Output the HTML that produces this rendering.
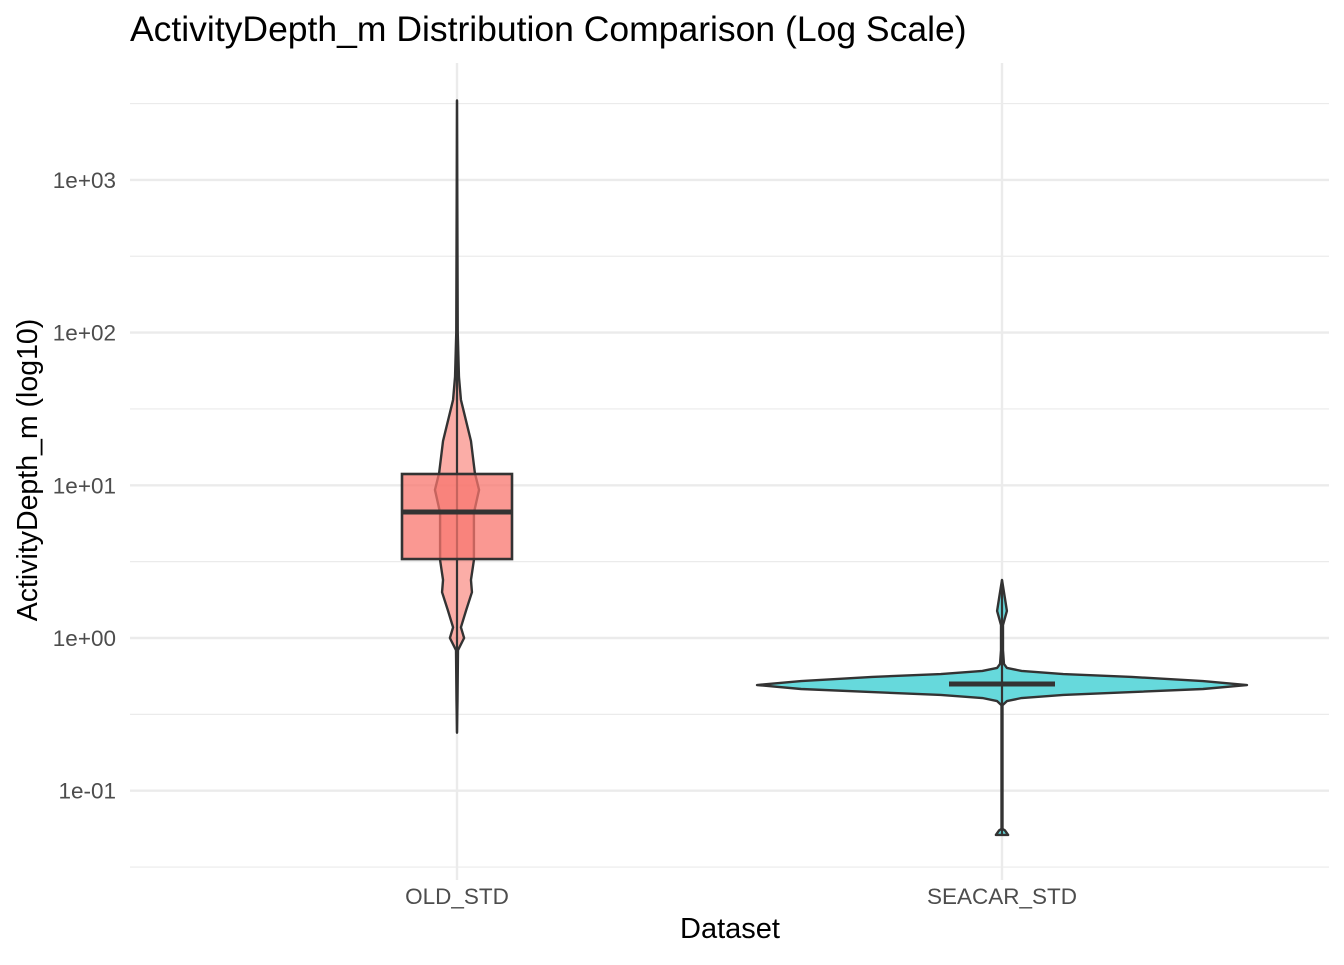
<!DOCTYPE html>
<html><head><meta charset="utf-8"><style>
body{margin:0;background:#fff;}
svg text{font-family:"Liberation Sans",sans-serif;}
</style></head><body>
<svg id="chart" width="1344" height="960" viewBox="0 0 1344 960" xmlns="http://www.w3.org/2000/svg">
<rect width="1344" height="960" fill="#fff"/>
<g id="grid"></g><g id="marks"></g><g id="axes"></g>
<text x="130" y="41" font-size="35.5" fill="#000">ActivityDepth_m Distribution Comparison (Log Scale)</text>
<text x="730" y="938" font-size="29" text-anchor="middle" fill="#000">Dataset</text>
<text transform="translate(37,470) rotate(-90)" font-size="28.5" text-anchor="middle" fill="#000">ActivityDepth_m (log10)</text>
</svg>
<script>
const categories = ["OLD_STD", "SEACAR_STD"];
const fillColors = ["#F8766D", "#00BFC4"];
const yTickValues = [-1, 0, 1, 2, 3];
const yTickLabels = ["1e-01", "1e+00", "1e+01", "1e+02", "1e+03"];
// violin profiles: log10 value and relative density (0..1)
const oldLog = [3.52, 2.0, 1.71, 1.56, 1.29, 1.08, 0.97, 0.82, 0.69, 0.51, 0.38, 0.30, 0.18, 0.07, 0.0, -0.08, -0.41, -0.62];
const oldDens = [0.0, 0.003, 0.008, 0.016, 0.057, 0.073, 0.09, 0.069, 0.069, 0.069, 0.057, 0.061, 0.037, 0.016, 0.029, 0.004, 0.002, 0.0];
const seaLog = [0.38, 0.26, 0.177, 0.085, -0.08, -0.17, -0.196, -0.216, -0.236, -0.255, -0.282, -0.308, -0.334, -0.354, -0.373, -0.393, -0.413, -0.44, -1.25, -1.26, -1.29];
const seaDens = [0.0, 0.012, 0.02, 0.004, 0.004, 0.008, 0.02, 0.08, 0.25, 0.53, 0.82, 1.0, 0.82, 0.53, 0.25, 0.08, 0.02, 0.002, 0.002, 0.012, 0.025];
const boxQ1 = [0.517, -0.301];
const boxMed = [0.825, -0.301];
const boxQ3 = [1.074, -0.301];
const whiskLo = [-0.616, -1.29];
const whiskHi = [3.52, 0.38];

const NS = "http://www.w3.org/2000/svg";
const px0 = 130, px1 = 1329, py0 = 63, py1 = 880;
const y = v => 638 - v * 152.7;
const x = i => 457 + i * 545;
const maxHalf = 245;
function mk(tag, attrs, parent) {
  const e = document.createElementNS(NS, tag);
  for (const k in attrs) e.setAttribute(k, attrs[k]);
  parent.appendChild(e); return e;
}
const grid = document.getElementById("grid"), marks = document.getElementById("marks"), axes = document.getElementById("axes");
for (let v = -1.5; v <= 3.5; v += 1) {
  const l = mk("line", {x1: px0, x2: px1, y1: y(v), y2: y(v), stroke: "#ebebeb", "stroke-width": 1.2}, grid);
  
  
}
yTickValues.forEach((v, i) => {
  const l = mk("line", {x1: px0, x2: px1, y1: y(v), y2: y(v), stroke: "#ebebeb", "stroke-width": 2.4}, grid);
  
  
  const t = mk("text", {x: 116, y: y(v) + 8, "font-size": 22.5, fill: "#4d4d4d", "text-anchor": "end"}, axes);
  t.textContent = yTickLabels[i];
  
  
});
categories.forEach((c, i) => {
  const l = mk("line", {x1: x(i), x2: x(i), y1: py0, y2: py1, stroke: "#ebebeb", "stroke-width": 2.4}, grid);
  
  
  const t = mk("text", {x: x(i), y: 904, "font-size": 22.5, fill: "#4d4d4d", "text-anchor": "middle"}, axes);
  t.textContent = c;
  
  
});
function violin(i, logs, dens) {
  const cx = x(i);
  let right = logs.map((v, k) => [cx + dens[k] * maxHalf, y(v)]);
  let left = logs.map((v, k) => [cx - dens[k] * maxHalf, y(v)]).reverse();
  const pts = right.concat(left);
  const p = mk("polygon", {points: pts.map(p => p.join(",")).join(" "), fill: fillColors[i], "fill-opacity": 0.6, stroke: "#333", "stroke-width": 2.4, "stroke-linejoin": "round"}, marks);
  
  
}
violin(0, oldLog, oldDens);
violin(1, seaLog, seaDens);
categories.forEach((c, i) => {
  const cx = x(i);
  const w = mk("line", {x1: cx, x2: cx, y1: y(whiskHi[i]), y2: y(whiskLo[i]), stroke: "#333", "stroke-width": 2.2}, marks);
  
  
  const bw = i === 0 ? 55 : 53;
  const b = mk("rect", {x: cx - bw, y: y(boxQ3[i]), width: 2 * bw, height: Math.max(0.01, y(boxQ1[i]) - y(boxQ3[i])), fill: fillColors[i], "fill-opacity": 0.75, stroke: "#333", "stroke-width": i === 0 ? 2.6 : 0}, marks);
  
  
  const m = mk("line", {x1: cx - bw, x2: cx + bw, y1: y(boxMed[i]), y2: y(boxMed[i]), stroke: "#333", "stroke-width": 5}, marks);
  
  
});
</script>
</body></html>
